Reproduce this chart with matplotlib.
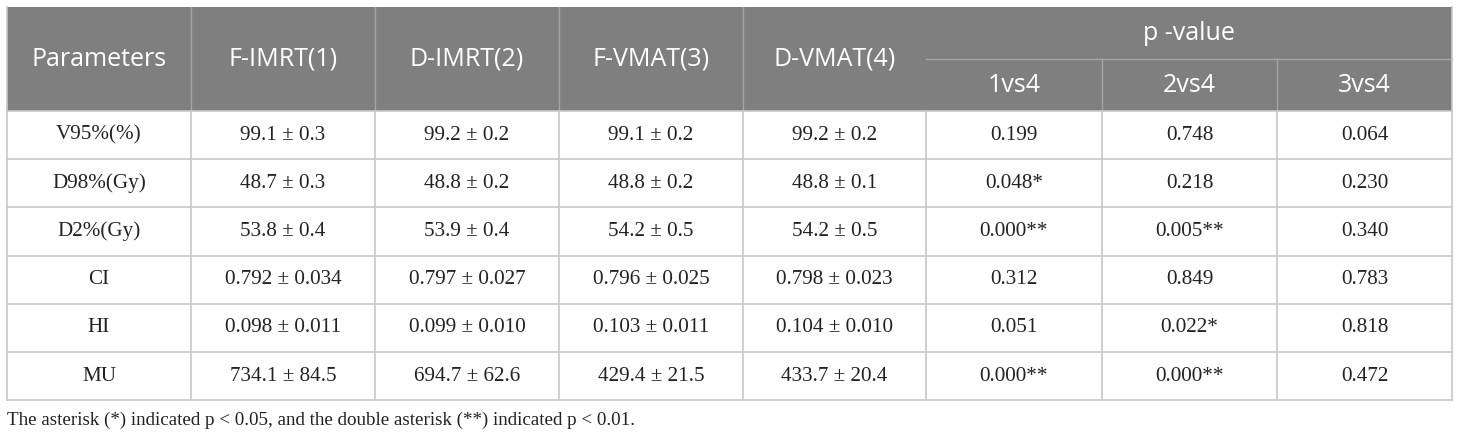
import matplotlib.pyplot as plt
from matplotlib.patches import Rectangle

params = ["V95%(%)", "D98%(Gy)", "D2%(Gy)", "CI", "HI", "MU"]
groups = ["F-IMRT(1)", "D-IMRT(2)", "F-VMAT(3)", "D-VMAT(4)"]
comparisons = ["1vs4", "2vs4", "3vs4"]

f_imrt = ["99.1 ± 0.3", "48.7 ± 0.3", "53.8 ± 0.4", "0.792 ± 0.034", "0.098 ± 0.011", "734.1 ± 84.5"]
d_imrt = ["99.2 ± 0.2", "48.8 ± 0.2", "53.9 ± 0.4", "0.797 ± 0.027", "0.099 ± 0.010", "694.7 ± 62.6"]
f_vmat = ["99.1 ± 0.2", "48.8 ± 0.2", "54.2 ± 0.5", "0.796 ± 0.025", "0.103 ± 0.011", "429.4 ± 21.5"]
d_vmat = ["99.2 ± 0.2", "48.8 ± 0.1", "54.2 ± 0.5", "0.798 ± 0.023", "0.104 ± 0.010", "433.7 ± 20.4"]
p_1vs4 = ["0.199", "0.048*", "0.000**", "0.312", "0.051", "0.000**"]
p_2vs4 = ["0.748", "0.218", "0.005**", "0.849", "0.022*", "0.000**"]
p_3vs4 = ["0.064", "0.230", "0.340", "0.783", "0.818", "0.472"]

note = "The asterisk (*) indicated p < 0.05, and the double asterisk (**) indicated p < 0.01."

# layout in pixels
col_x = [7, 191, 375, 559, 743, 926, 1102, 1277, 1452]
head_top, head_mid, head_bot = 7, 59, 111
row_h = 48.2

hdr_bg = "#7f7f7f"
hdr_line = "#a6a6a6"
body_line = "#c8c8c8"
sans = "Open Sans"
serif = "Liberation Serif"
hdr_fs = 18
body_fs = 15.2

fig = plt.figure(figsize=(14.6, 4.38), dpi=100)
ax = fig.add_axes([0, 0, 1, 1])
ax.set_xlim(0, 1460)
ax.set_ylim(438, 0)
ax.axis("off")

# header background
ax.add_patch(Rectangle((col_x[0], head_top), col_x[-1] - col_x[0], head_bot - head_top,
                       facecolor=hdr_bg, edgecolor="none"))
for x in col_x[1:5]:
    ax.plot([x, x], [head_top, head_bot], color=hdr_line, lw=1)
for x in col_x[6:8]:
    ax.plot([x, x], [head_mid, head_bot], color=hdr_line, lw=1)
ax.plot([col_x[5], col_x[-1]], [head_mid, head_mid], color=hdr_line, lw=1)

hy = (head_top + head_bot) / 2
ax.text((col_x[0] + col_x[1]) / 2, hy, "Parameters", color="white", fontsize=hdr_fs,
        family=sans, ha="center", va="center")
for i, g in enumerate(groups):
    ax.text((col_x[i + 1] + col_x[i + 2]) / 2, hy, g, color="white", fontsize=hdr_fs,
            family=sans, ha="center", va="center")
ax.text((col_x[5] + col_x[-1]) / 2, (head_top + head_mid) / 2, "p -value", color="white",
        fontsize=hdr_fs, family=sans, ha="center", va="center")
for i, c in enumerate(comparisons):
    ax.text((col_x[5 + i] + col_x[6 + i]) / 2, (head_mid + head_bot) / 2, c, color="white",
            fontsize=hdr_fs, family=sans, ha="center", va="center")

# body
columns = [params, f_imrt, d_imrt, f_vmat, d_vmat, p_1vs4, p_2vs4, p_3vs4]
n = len(params)
bottom = head_bot + n * row_h
for r in range(n + 1):
    y = head_bot + r * row_h
    ax.plot([col_x[0], col_x[-1]], [y, y], color=body_line, lw=1.2)
for x in col_x:
    ax.plot([x, x], [head_bot, bottom], color=body_line, lw=1.2)
for x in [col_x[0], col_x[-1]]:
    ax.plot([x, x], [head_top, head_bot], color=body_line, lw=1.2)

for c, vals in enumerate(columns):
    cx = (col_x[c] + col_x[c + 1]) / 2
    for r, v in enumerate(vals):
        ax.text(cx, head_bot + (r + 0.5) * row_h, v, fontsize=body_fs, family=serif,
                ha="center", va="center", color="#222222")

ax.text(col_x[0], bottom + 20, note, fontsize=13.7, family=serif, ha="left", va="center",
        color="#222222")

fig.savefig("out.png", dpi=100)
